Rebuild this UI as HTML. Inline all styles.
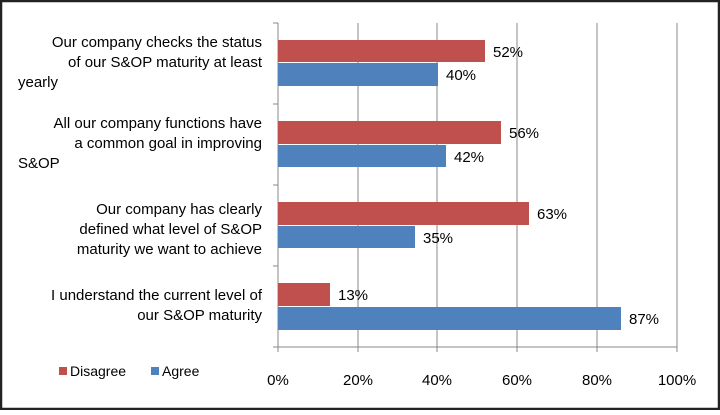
<!DOCTYPE html>
<html><head><style>
body{margin:0;background:#fff;}
svg text{font-family:"Liberation Sans",sans-serif;fill:#000;}
</style></head><body>
<svg width="720" height="410" viewBox="0 0 720 410" xmlns="http://www.w3.org/2000/svg">
<rect x="1" y="1" width="718" height="408" fill="#fff" stroke="#222" stroke-width="2.5"/>
<g stroke="#888" stroke-width="1">
<line x1="358" y1="23" x2="358" y2="352"/>
<line x1="437" y1="23" x2="437" y2="352"/>
<line x1="517" y1="23" x2="517" y2="352"/>
<line x1="597" y1="23" x2="597" y2="352"/>
<line x1="677" y1="23" x2="677" y2="352"/>
<line x1="278" y1="23" x2="278" y2="352"/>
<line x1="278" y1="347" x2="677" y2="347"/>
<line x1="273" y1="23" x2="278" y2="23"/>
<line x1="273" y1="104" x2="278" y2="104"/>
<line x1="273" y1="185" x2="278" y2="185"/>
<line x1="273" y1="266" x2="278" y2="266"/>
<line x1="273" y1="347" x2="278" y2="347"/>
</g>
<g fill="#c0504d">
<rect x="278" y="40" width="207" height="22"/>
<rect x="278" y="121" width="223" height="23"/>
<rect x="278" y="202" width="251" height="23"/>
<rect x="278" y="283" width="52" height="23"/>
</g>
<g fill="#4f81bd">
<rect x="278" y="63" width="160" height="23"/>
<rect x="278" y="145" width="168" height="22"/>
<rect x="278" y="226" width="137" height="22"/>
<rect x="278" y="307" width="343" height="23"/>
</g>
<g font-size="15">
<text x="493" y="57">52%</text>
<text x="446" y="80">40%</text>
<text x="509" y="138">56%</text>
<text x="454" y="162">42%</text>
<text x="537" y="219">63%</text>
<text x="423" y="243">35%</text>
<text x="338" y="300">13%</text>
<text x="629" y="324">87%</text>
</g>
<g font-size="15" text-anchor="end">
<text x="262" y="47">Our company checks the status</text>
<text x="262" y="67">of our S&amp;OP maturity at least</text>
<text x="262" y="128">All our company functions have</text>
<text x="262" y="148">a common goal in improving</text>
<text x="262" y="214">Our company has clearly</text>
<text x="262" y="234">defined what level of S&amp;OP</text>
<text x="262" y="254">maturity we want to achieve</text>
<text x="262" y="300">I understand the current level of</text>
<text x="262" y="320">our S&amp;OP maturity</text>
</g>
<text x="18" y="87" font-size="15">yearly</text>
<text x="18" y="168" font-size="15">S&amp;OP</text>
<g font-size="15" text-anchor="middle">
<text x="278" y="385">0%</text>
<text x="358" y="385">20%</text>
<text x="437" y="385">40%</text>
<text x="517" y="385">60%</text>
<text x="597" y="385">80%</text>
<text x="677" y="385">100%</text>
</g>
<rect x="59" y="367" width="8" height="8" fill="#c0504d"/>
<text x="70" y="376" font-size="14">Disagree</text>
<rect x="151" y="367" width="8" height="8" fill="#4f81bd"/>
<text x="162" y="376" font-size="14">Agree</text>
</svg>
</body></html>
